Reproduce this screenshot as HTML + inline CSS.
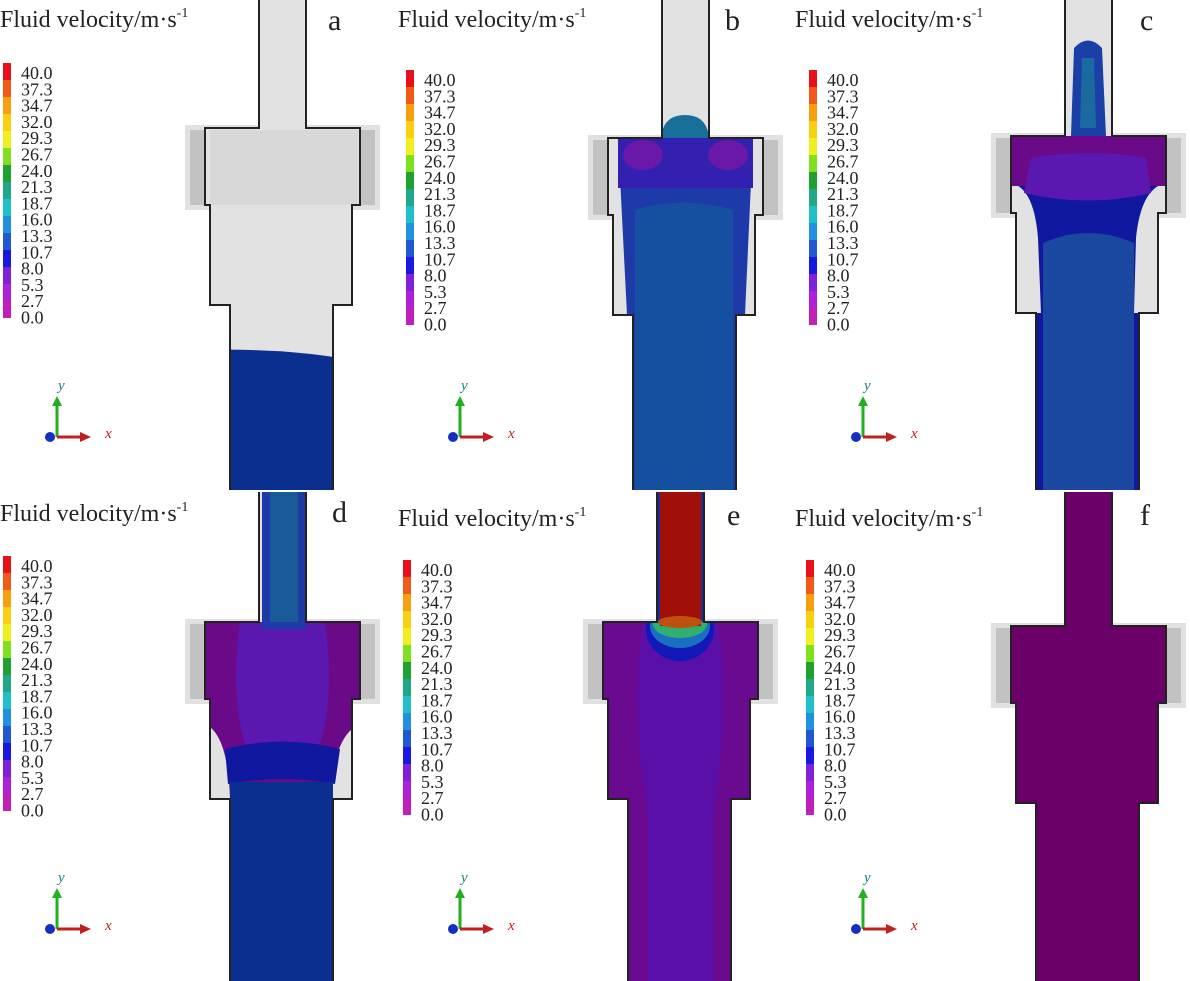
<!DOCTYPE html>
<html><head><meta charset="utf-8"><style>
html,body{margin:0;padding:0;background:#fff;}
svg{display:block;font-family:"Liberation Serif",serif;}
</style></head><body>
<svg width="1190" height="981" viewBox="0 0 1190 981" xmlns="http://www.w3.org/2000/svg">
<defs>
  <path id="shape" d="M259,-30 L259,128 L205,128 L205,205 L210,205 L210,305 L230,305 L230,520 L333,520 L333,305 L352,305 L352,205 L360,205 L360,128 L306,128 L306,-30 Z"/>
  <clipPath id="clip"><use href="#shape"/></clipPath>
  <clipPath id="rowTop"><rect x="0" y="0" width="1190" height="490"/></clipPath>
  <clipPath id="rowBot"><rect x="0" y="492" width="1190" height="489"/></clipPath>
  <g id="ghost">
    <rect x="185" y="125" width="195" height="85" fill="#d4d4d4" opacity="0.7"/>
    <rect x="190" y="130" width="18" height="75" fill="#b5b5b5" opacity="0.7"/>
    <rect x="357" y="130" width="18" height="75" fill="#b5b5b5" opacity="0.7"/>
  </g>
  <g id="cbar">
    <rect x="0" y="0" width="8" height="17" fill="#e8101a"/>
    <rect x="0" y="17" width="8" height="17" fill="#f05a18"/>
    <rect x="0" y="34" width="8" height="17" fill="#f6a010"/>
    <rect x="0" y="51" width="8" height="17" fill="#f8d010"/>
    <rect x="0" y="68" width="8" height="17" fill="#f0f020"/>
    <rect x="0" y="85" width="8" height="17" fill="#80e020"/>
    <rect x="0" y="102" width="8" height="17" fill="#20a030"/>
    <rect x="0" y="119" width="8" height="17" fill="#20a888"/>
    <rect x="0" y="136" width="8" height="17" fill="#20c0c8"/>
    <rect x="0" y="153" width="8" height="17" fill="#2090e0"/>
    <rect x="0" y="170" width="8" height="17" fill="#2058d0"/>
    <rect x="0" y="187" width="8" height="17" fill="#1818e0"/>
    <rect x="0" y="204" width="8" height="17" fill="#8020d8"/>
    <rect x="0" y="221" width="8" height="17" fill="#b020d8"/>
    <rect x="0" y="238" width="8" height="17" fill="#c020b8"/>
    <g font-size="18" fill="#222">
      <text x="18" y="16">40.0</text><text x="18" y="32.3">37.3</text><text x="18" y="48.6">34.7</text>
      <text x="18" y="64.9">32.0</text><text x="18" y="81.2">29.3</text><text x="18" y="97.5">26.7</text>
      <text x="18" y="113.8">24.0</text><text x="18" y="130.1">21.3</text><text x="18" y="146.4">18.7</text>
      <text x="18" y="162.7">16.0</text><text x="18" y="179">13.3</text><text x="18" y="195.3">10.7</text>
      <text x="18" y="211.6">8.0</text><text x="18" y="227.9">5.3</text><text x="18" y="244.2">2.7</text>
      <text x="18" y="260.5">0.0</text>
    </g>
  </g>
  <g id="axes">
    <line x1="57" y1="437" x2="57" y2="404" stroke="#20b020" stroke-width="3"/>
    <polygon points="52,406 62,406 57,396" fill="#20b020"/>
    <line x1="57" y1="437" x2="82" y2="437" stroke="#c02020" stroke-width="3"/>
    <polygon points="80,432 80,442 91,437" fill="#c02020"/>
    <circle cx="50" cy="437" r="5" fill="#1530c0"/>
    <text x="58" y="390" font-size="15" font-style="italic" fill="#208080">y</text>
    <text x="105" y="438" font-size="15" font-style="italic" fill="#c02020">x</text>
  </g>
  <g id="title"><text x="0" y="0" font-size="24" fill="#222">Fluid velocity/m·s<tspan font-size="14" dy="-10">-1</tspan></text></g>
</defs>

<!-- panel a -->
<use href="#title" x="0" y="27"/>
<use href="#cbar" x="3" y="63"/>
<use href="#axes"/>
<g clip-path="url(#rowTop)"><g>
  <use href="#ghost"/>
  <g clip-path="url(#clip)">
    <rect x="0" y="-30" width="400" height="560" fill="#e2e2e2"/>
    <rect x="210" y="130" width="148" height="75" fill="#d8d8d8"/>
    <path d="M200,350 Q280,348 340,358 L340,530 L200,530 Z" fill="#0a2f8f"/>
  </g>
  <use href="#shape" fill="none" stroke="#222" stroke-width="2"/>
</g></g>
<text x="328" y="30" font-size="30" fill="#222">a</text>

<!-- panel b -->
<use href="#title" x="398" y="27"/>
<use href="#cbar" x="406" y="70"/>
<use href="#axes" x="403" y="0"/>
<g clip-path="url(#rowTop)"><g transform="translate(403,10)">
  <use href="#ghost"/>
  <g clip-path="url(#clip)">
    <rect x="0" y="-30" width="400" height="560" fill="#e2e2e2"/>
    <path d="M215,128 L350,128 L342,305 L333,305 L333,530 L230,530 L230,305 L224,305 Z" fill="#1e3aa8"/>
    <rect x="215" y="128" width="135" height="50" fill="#3320b0"/>
    <ellipse cx="240" cy="145" rx="20" ry="15" fill="#6a18a8"/>
    <ellipse cx="325" cy="145" rx="20" ry="15" fill="#6a18a8"/>
    <path d="M232,200 Q280,185 330,200 L330,530 L232,530 Z" fill="#1550a0"/>
    <path d="M258,128 Q260,105 282,105 Q304,105 306,128 Z" fill="#18709a"/>
  </g>
  <use href="#shape" fill="none" stroke="#222" stroke-width="2"/>
</g></g>
<text x="725" y="30" font-size="30" fill="#222">b</text>

<!-- panel c -->
<use href="#title" x="795" y="27"/>
<use href="#cbar" x="809" y="70"/>
<use href="#axes" x="806" y="0"/>
<g clip-path="url(#rowTop)"><g transform="translate(806,8)">
  <use href="#ghost"/>
  <g clip-path="url(#clip)">
    <rect x="0" y="-30" width="400" height="560" fill="#e2e2e2"/>
    <path d="M205,128 L360,128 L360,175 Q335,180 330,230 L328,305 L333,305 L333,530 L230,530 L230,305 L235,305 L232,230 Q228,180 205,175 Z" fill="#1018a0"/>
    <rect x="205" y="128" width="155" height="50" fill="#6a0a88"/>
    <path d="M225,150 Q282,140 340,150 L345,185 Q282,200 218,185 Z" fill="#5a18b0"/>
    <path d="M237,235 Q282,215 328,235 L328,530 L237,530 Z" fill="#1a48a0"/>
    <path d="M265,128 L268,40 Q282,25 296,40 L300,128 Z" fill="#1a40a8"/>
    <path d="M274,120 L276,50 L288,50 L290,120 Z" fill="#1a6aa0"/>
  </g>
  <use href="#shape" fill="none" stroke="#222" stroke-width="2"/>
</g></g>
<text x="1140" y="30" font-size="30" fill="#222">c</text>

<!-- panel d -->
<use href="#title" x="0" y="521"/>
<use href="#cbar" x="3" y="556"/>
<use href="#axes" x="0" y="492"/>
<g clip-path="url(#rowBot)"><g transform="translate(0,494)">
  <use href="#ghost"/>
  <g clip-path="url(#clip)">
    <rect x="0" y="-30" width="400" height="560" fill="#e2e2e2"/>
    <path d="M205,128 L360,128 L360,230 Q335,240 330,300 L333,305 L333,530 L230,530 L230,305 Q228,240 205,230 Z" fill="#6a0a88"/>
    <path d="M240,128 L325,128 Q335,200 320,250 L245,250 Q230,200 240,128 Z" fill="#5a18b0"/>
    <path d="M225,255 Q282,240 340,255 L335,290 Q282,280 228,290 Z" fill="#1018a0"/>
    <rect x="230" y="288" width="103" height="242" fill="#0a2f8f"/>
    <rect x="262" y="-30" width="44" height="165" fill="#1e3aa8"/>
    <rect x="270" y="-30" width="28" height="158" fill="#1a5a98"/>
  </g>
  <use href="#shape" fill="none" stroke="#222" stroke-width="2"/>
</g></g>
<text x="332" y="522" font-size="30" fill="#222">d</text>

<!-- panel e -->
<use href="#title" x="398" y="526"/>
<use href="#cbar" x="403" y="560"/>
<use href="#axes" x="403" y="492"/>
<g clip-path="url(#rowBot)"><g transform="translate(398,494)">
  <use href="#ghost"/>
  <g clip-path="url(#clip)">
    <rect x="0" y="-30" width="400" height="560" fill="#5a10a8"/>
    <path d="M205,128 L245,128 Q232,220 250,320 L250,530 L205,530 Z" fill="#6a0a90"/>
    <path d="M360,128 L320,128 Q333,220 315,320 L315,530 L360,530 Z" fill="#6a0a90"/>
    <rect x="200" y="300" width="30" height="230" fill="#6a0a90"/>
    <rect x="333" y="300" width="30" height="230" fill="#6a0a90"/>
    <ellipse cx="282" cy="135" rx="34" ry="32" fill="#1018b8"/>
    <ellipse cx="282" cy="132" rx="30" ry="22" fill="#1a70c0"/>
    <ellipse cx="282" cy="130" rx="27" ry="14" fill="#30b070"/>
    <rect x="259" y="-30" width="47" height="158" fill="#1a30a0"/>
    <rect x="262" y="-30" width="41" height="162" fill="#a01008"/>
    <ellipse cx="282" cy="128" rx="22" ry="6" fill="#c05010"/>
  </g>
  <use href="#shape" fill="none" stroke="#222" stroke-width="2"/>
</g></g>
<text x="727" y="525" font-size="30" fill="#222">e</text>

<!-- panel f -->
<use href="#title" x="795" y="526"/>
<use href="#cbar" x="806" y="560"/>
<use href="#axes" x="806" y="492"/>
<g clip-path="url(#rowBot)"><g transform="translate(806,498)">
  <use href="#ghost"/>
  <g clip-path="url(#clip)">
    <rect x="0" y="-30" width="400" height="560" fill="#6a0068"/>
  </g>
  <use href="#shape" fill="none" stroke="#222" stroke-width="2"/>
</g></g>
<text x="1140" y="525" font-size="30" fill="#222">f</text>
</svg>
</body></html>
